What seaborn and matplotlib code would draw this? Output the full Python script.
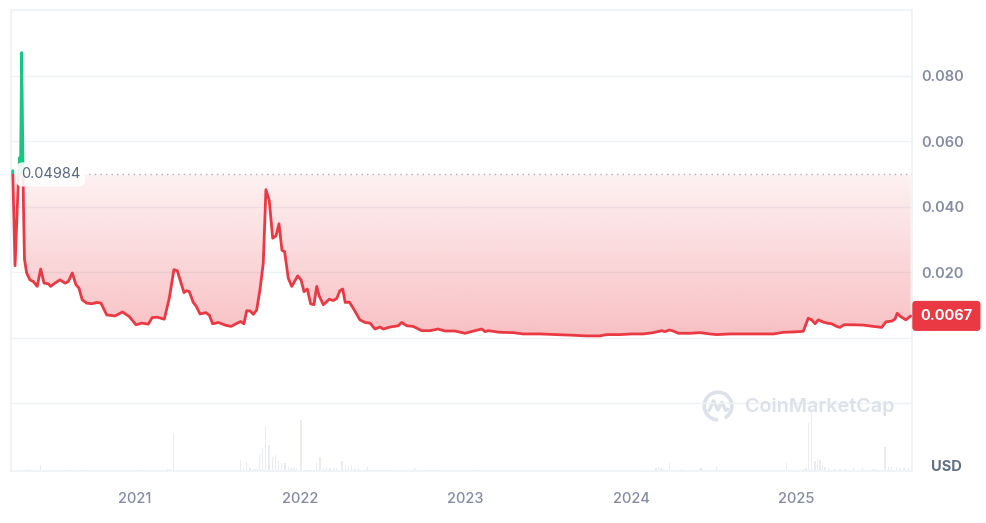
import numpy as np
import pandas as pd
import matplotlib
matplotlib.use('Agg')
import matplotlib.pyplot as plt
from matplotlib.patches import Rectangle, Arc
import seaborn as sns

# price history (decimal year, USD)
years = [2020.263, 2020.277, 2020.297, 2020.304, 2020.310, 2020.317, 2020.328, 2020.334,
         2020.347, 2020.367, 2020.387, 2020.411, 2020.432, 2020.452, 2020.478, 2020.492,
         2020.518, 2020.549, 2020.579, 2020.599, 2020.623, 2020.645, 2020.663, 2020.683,
         2020.710, 2020.740, 2020.770, 2020.796, 2020.831, 2020.881, 2020.927, 2020.967,
         2021.008, 2021.042, 2021.082, 2021.106, 2021.137, 2021.179, 2021.209, 2021.237,
         2021.257, 2021.274, 2021.298, 2021.314, 2021.330, 2021.354, 2021.370, 2021.395,
         2021.431, 2021.451, 2021.471, 2021.505, 2021.546, 2021.582, 2021.612, 2021.640,
         2021.660, 2021.677, 2021.697, 2021.717, 2021.737, 2021.757, 2021.777, 2021.793,
         2021.813, 2021.834, 2021.854, 2021.872, 2021.890, 2021.906, 2021.928, 2021.949,
         2021.985, 2022.005, 2022.023, 2022.043, 2022.063, 2022.083, 2022.100, 2022.115,
         2022.140, 2022.176, 2022.200, 2022.221, 2022.240, 2022.257, 2022.272, 2022.297,
         2022.321, 2022.361, 2022.392, 2022.422, 2022.452, 2022.482, 2022.502, 2022.543,
         2022.593, 2022.613, 2022.644, 2022.683, 2022.734, 2022.784, 2022.834, 2022.875,
         2022.935, 2022.996, 2023.056, 2023.097, 2023.117, 2023.137, 2023.207, 2023.288,
         2023.348, 2023.449, 2023.550, 2023.650, 2023.731, 2023.811, 2023.852, 2023.932,
         2024.003, 2024.073, 2024.134, 2024.184, 2024.204, 2024.230, 2024.254, 2024.285,
         2024.355, 2024.416, 2024.476, 2024.517, 2024.597, 2024.698, 2024.798, 2024.859,
         2024.919, 2024.980, 2025.040, 2025.070, 2025.091, 2025.111, 2025.131, 2025.157,
         2025.185, 2025.211, 2025.242, 2025.262, 2025.286, 2025.342, 2025.402, 2025.463,
         2025.514, 2025.540, 2025.574, 2025.594, 2025.608, 2025.628, 2025.660, 2025.689]
prices = [0.0510, 0.0220, 0.0480, 0.0550, 0.0500, 0.0870, 0.0400, 0.0240,
          0.0198, 0.0177, 0.0172, 0.0157, 0.0210, 0.0167, 0.0165, 0.0157,
          0.0167, 0.0177, 0.0167, 0.0172, 0.0198, 0.0162, 0.0152, 0.0116,
          0.0106, 0.0104, 0.0108, 0.0106, 0.0070, 0.0067, 0.0079, 0.0065,
          0.0040, 0.0045, 0.0042, 0.0062, 0.0063, 0.0057, 0.0121, 0.0208,
          0.0205, 0.0177, 0.0138, 0.0144, 0.0141, 0.0108, 0.0098, 0.0073,
          0.0077, 0.0069, 0.0043, 0.0047, 0.0039, 0.0035, 0.0043, 0.0050,
          0.0043, 0.0083, 0.0082, 0.0072, 0.0085, 0.0147, 0.0228, 0.0452,
          0.0419, 0.0304, 0.0311, 0.0348, 0.0267, 0.0263, 0.0182, 0.0157,
          0.0189, 0.0177, 0.0141, 0.0149, 0.0104, 0.0101, 0.0157, 0.0128,
          0.0101, 0.0118, 0.0114, 0.0120, 0.0144, 0.0149, 0.0108, 0.0109,
          0.0090, 0.0055, 0.0047, 0.0045, 0.0027, 0.0033, 0.0027, 0.0033,
          0.0037, 0.0047, 0.0037, 0.0035, 0.0022, 0.0022, 0.0027, 0.0021,
          0.0021, 0.0014, 0.0022, 0.0027, 0.0019, 0.0022, 0.0017, 0.0016,
          0.0012, 0.0012, 0.0010, 0.0008, 0.0006, 0.0006, 0.0010, 0.0010,
          0.0012, 0.0012, 0.0016, 0.0022, 0.0019, 0.0024, 0.0021, 0.0014,
          0.0014, 0.0016, 0.0012, 0.0010, 0.0012, 0.0012, 0.0012, 0.0012,
          0.0017, 0.0018, 0.0020, 0.0060, 0.0055, 0.0043, 0.0055, 0.0049,
          0.0045, 0.0043, 0.0035, 0.0032, 0.0040, 0.0040, 0.0039, 0.0035,
          0.0032, 0.0049, 0.0051, 0.0057, 0.0075, 0.0065, 0.0055, 0.0067]

# trading volume (relative units)
vol_years = [2020.317, 2020.357, 2020.373, 2020.432, 2020.603, 2020.619, 2020.700, 2020.716,
             2021.008, 2021.048, 2021.103, 2021.199, 2021.213, 2021.236, 2021.429, 2021.445,
             2021.620, 2021.640, 2021.656, 2021.677, 2021.697, 2021.717, 2021.733, 2021.753,
             2021.773, 2021.792, 2021.811, 2021.831, 2021.850, 2021.870, 2021.888, 2021.908,
             2021.928, 2021.944, 2021.963, 2021.979, 2022.005, 2022.029, 2022.059, 2022.083,
             2022.100, 2022.120, 2022.140, 2022.160, 2022.180, 2022.200, 2022.221, 2022.253,
             2022.272, 2022.293, 2022.311, 2022.331, 2022.351, 2022.405, 2022.440, 2022.482,
             2022.518, 2022.683, 2022.695, 2022.754, 2022.802, 2022.845, 2023.056, 2023.957,
             2024.150, 2024.164, 2024.180, 2024.194, 2024.230, 2024.305, 2024.411, 2024.422,
             2024.517, 2024.940, 2025.040, 2025.056, 2025.070, 2025.091, 2025.111, 2025.124,
             2025.141, 2025.157, 2025.171, 2025.191, 2025.231, 2025.262, 2025.292, 2025.342,
             2025.399, 2025.459, 2025.473, 2025.533, 2025.553, 2025.574, 2025.604, 2025.624,
             2025.648, 2025.674, 2025.695]
volumes = [4, 8, 4, 23, 4, 4, 4, 4,
           4, 4, 4, 8, 8, 152, 4, 4,
           4, 44, 12, 36, 12, 8, 8, 64,
           94, 180, 104, 58, 64, 40, 32, 34,
           16, 12, 12, 12, 204, 6, 6, 4,
           32, 56, 12, 16, 12, 12, 12, 40,
           24, 20, 24, 8, 12, 16, 4, 4,
           4, 8, 12, 4, 4, 4, 4, 4,
           12, 16, 12, 8, 32, 8, 8, 12,
           16, 32, 8, 12, 192, 232, 40, 48,
           44, 24, 16, 12, 8, 8, 8, 12,
           12, 8, 8, 96, 16, 16, 16, 12,
           12, 12, 8]

year_ticks = [2021, 2022, 2023, 2024, 2025]
price_ticks = [-0.02, 0.0, 0.02, 0.04, 0.06, 0.08]
price_tick_labels = ['', '', '0.020', '0.040', '0.060', '0.080']
baseline = 0.04984
last_label = '0.0067'

RED = '#EA3943'
GREEN = '#16C784'
GRID = '#EFF2F5'
TXT = '#858CA2'

df = pd.DataFrame({'year': years, 'price': prices})

sns.set_theme(style='white')
plt.rcParams['font.family'] = ['Inter', 'DejaVu Sans']

fig = plt.figure(figsize=(9.87, 5.23), dpi=100)
W, H = 987, 523
ax = fig.add_axes([11 / W, 1 - 471 / H, (912 - 11) / W, (471 - 10) / H])
ax_vol = ax.twinx()
ax.set_zorder(ax_vol.get_zorder() + 1)
ax.patch.set_visible(False)

xmin, xmax = 2020.2526, 2025.697
ymin, ymax = -0.0406, 0.1

# volume bars
ax_vol.bar(vol_years, volumes, width=0.008, color='#E9EDF2', linewidth=0)
ax_vol.set_ylim(0, 461 * 4)
ax_vol.set_yticks([])
for s in ax_vol.spines.values():
    s.set_visible(False)

# gradient fill between baseline and price
poly = ax.fill_between(df.year, df.price, baseline, facecolor='none', edgecolor='none')
grad = np.zeros((256, 1, 4))
grad[..., 0] = 234 / 255
grad[..., 1] = 57 / 255
grad[..., 2] = 67 / 255
grad[:, 0, 3] = np.linspace(0.32, 0.07, 256)
im = ax.imshow(grad, extent=[xmin, xmax, 0, baseline], origin='lower', aspect='auto', zorder=1)
im.set_clip_path(poly.get_paths()[0], transform=ax.transData)

# price line: red below baseline, green above
sns.lineplot(data=df, x='year', y='price', ax=ax, color=RED, lw=2, estimator=None, zorder=3)
red_line = ax.lines[-1]
red_line.set_clip_path(Rectangle((xmin - 1, ymin - 1), 10, baseline - ymin + 1, transform=ax.transData))
sns.lineplot(data=df, x='year', y='price', ax=ax, color=GREEN, lw=2, estimator=None, zorder=3)
green_line = ax.lines[-1]
green_line.set_clip_path(Rectangle((xmin - 1, baseline), 10, 1, transform=ax.transData))

ax.axhline(baseline, color='#A8AFC0', lw=1, ls=(0, (1, 3)), zorder=2)

ax.set_xlim(xmin, xmax)
ax.set_ylim(ymin, ymax)
ax.set_xlabel('')
ax.set_ylabel('')

ax.set_yticks(price_ticks)
ax.set_yticklabels(price_tick_labels)
ax.yaxis.tick_right()
ax.tick_params(axis='y', length=0, pad=7, labelsize=10.5, labelcolor=TXT)
for lab in ax.get_yticklabels():
    lab.set_fontweight('semibold')
ax.set_xticks(year_ticks)
ax.set_xticklabels([str(y) for y in year_ticks])
ax.tick_params(axis='x', length=0, pad=15, labelsize=10.5, labelcolor=TXT)
for lab in ax.get_xticklabels():
    lab.set_fontweight('medium')
ax.grid(axis='y', color=GRID, lw=1)
ax.grid(axis='x', visible=False)
for s in ax.spines.values():
    s.set_visible(True)
    s.set_color(GRID)
    s.set_linewidth(1.2)

# baseline value label
ax.annotate('0.04984', xy=(0, baseline), xycoords=('axes fraction', 'data'),
            xytext=(7, 0), textcoords='offset points', ha='left', va='center',
            fontsize=10.5, color='#58667E', zorder=6,
            bbox=dict(boxstyle='round,pad=0.35,rounding_size=0.5', fc='white', ec='none', alpha=0.9))

# last price tag
ax.annotate(last_label, xy=(1, prices[-1]), xycoords=('axes fraction', 'data'),
            xytext=(6, 0), textcoords='offset points', ha='left', va='center',
            fontsize=10.5, fontweight='bold', color='white', zorder=6, annotation_clip=False,
            bbox=dict(boxstyle='round,pad=0.55,rounding_size=0.25', fc=RED, ec='none'))

fig.text(946 / W, 1 - 467 / H, 'USD', ha='center', va='center', fontsize=10.5,
         fontweight='bold', color='#616E85')

# watermark
fig.text(745 / W, 1 - 407 / H, 'CoinMarketCap', ha='left', va='center', fontsize=14.2,
         fontweight='semibold', color='#DCE1EA')
logo = fig.add_axes([702 / W, 1 - 422 / H, 32 / W, 32 / H])
logo.set_xlim(0, 1)
logo.set_ylim(0, 1)
logo.set_aspect('equal')
logo.axis('off')
logo.add_patch(Arc((0.5, 0.5), 0.86, 0.86, theta1=-60, theta2=270, lw=2.6, color='#DCE1EA'))
logo.plot([0.22, 0.36, 0.5, 0.62, 0.74, 0.8], [0.36, 0.66, 0.38, 0.62, 0.36, 0.40],
          color='#DCE1EA', lw=2.4, solid_capstyle='round', solid_joinstyle='round')

fig.savefig('out.png', dpi=100)
